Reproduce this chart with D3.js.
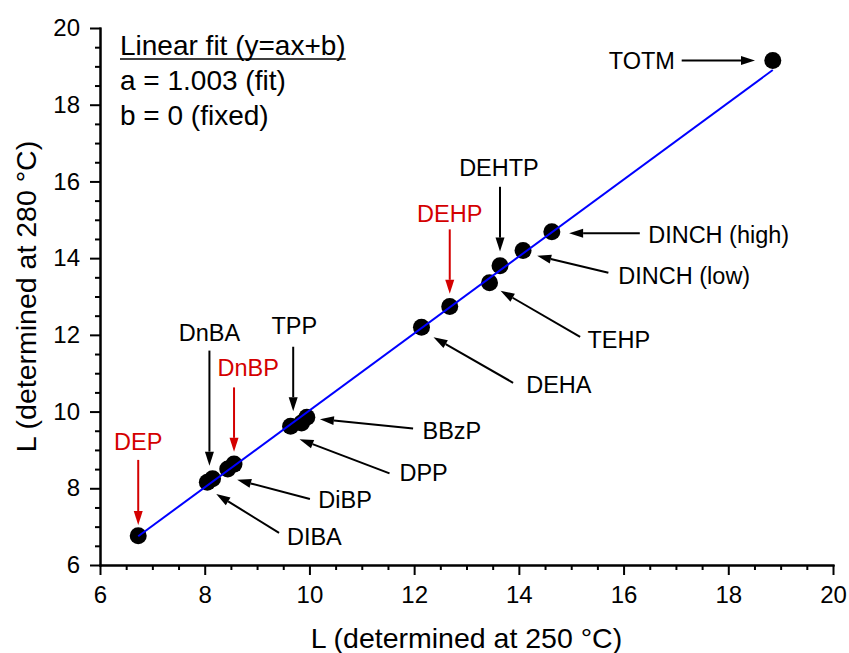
<!DOCTYPE html>
<html>
<head>
    <meta charset="UTF-8">
    <title>L at 250 °C vs L at 280 °C</title>
    <script src="https://d3js.org/d3.v7.min.js"></script>
    <style>
        body {
            margin: 0;
            padding: 0;
            background-color: white;
        }
        svg text {
            font-family: "Liberation Sans", Arial, sans-serif;
            fill: black;
        }
        .axis path, .axis line {
            stroke: black;
            stroke-width: 2px;
        }
        .axis text {
            font-size: 24px;
        }
        .label {
            font-size: 23.5px;
        }
        .title {
            font-size: 28.5px;
        }
        .legend {
            font-size: 28px;
        }
    </style>
</head>
<body>
    <div id="chart"></div>

    <script>
        // values
        var compounds = ["DEP", "DnBA", "DIBA", "DiBP", "DnBP", "TPP", "DPP", "BBzP",
                         "DEHA", "DEHP", "TEHP", "DEHTP", "DINCH (low)", "DINCH (high)", "TOTM"];
        var l250 = [6.73, 8.05, 8.15, 8.44, 8.56, 9.64, 9.85, 9.95,
                    12.14, 12.68, 13.44, 13.64, 14.08, 14.63, 18.85];
        var l280 = [6.76, 8.16, 8.25, 8.50, 8.63, 9.62, 9.70, 9.85,
                    12.20, 12.74, 13.36, 13.80, 14.20, 14.69, 19.15];
        var fitSlope = 1.003;
        var xTicks = [6, 8, 10, 12, 14, 16, 18, 20];
        var yTicks = [6, 8, 10, 12, 14, 16, 18, 20];
        var legendLines = ["Linear fit (y=ax+b)", "a = 1.003 (fit)", "b = 0 (fixed)"];

        // callouts: label position and arrow tail/tip, in data units
        var red = "#d40000";
        var callouts = [
            {text: "TOTM",         lx: 16.98, ly: 19.15, anchor: "end",    tail: [17.11, 19.15], tip: [18.51, 19.15]},
            {text: "DINCH (high)", lx: 16.47, ly: 14.62, anchor: "start",  tail: [16.31, 14.65], tip: [14.96, 14.65]},
            {text: "DINCH (low)",  lx: 15.90, ly: 13.54, anchor: "start",  tail: [15.71, 13.62], tip: [14.35, 14.06]},
            {text: "DEHTP",        lx: 13.62, ly: 16.35, anchor: "middle", tail: [13.64, 15.86], tip: [13.64, 14.17]},
            {text: "DEHP",         lx: 12.68, ly: 15.15, anchor: "middle", tail: [12.68, 14.75], tip: [12.68, 13.07], red: true},
            {text: "TEHP",         lx: 15.31, ly: 11.87, anchor: "start",  tail: [15.17, 11.95], tip: [13.65, 13.15]},
            {text: "DEHA",         lx: 14.14, ly: 10.69, anchor: "start",  tail: [13.89, 10.75], tip: [12.37, 11.94]},
            {text: "BBzP",         lx: 12.16, ly: 9.49,  anchor: "start",  tail: [11.98, 9.56],  tip: [10.20, 9.80]},
            {text: "DPP",          lx: 11.72, ly: 8.40,  anchor: "start",  tail: [11.53, 8.39],  tip: [9.81, 9.28]},
            {text: "TPP",          lx: 9.71,  ly: 12.23, anchor: "middle", tail: [9.69, 11.69],  tip: [9.69, 10.01]},
            {text: "DnBP",         lx: 8.83,  ly: 11.13, anchor: "middle", tail: [8.56, 10.63],  tip: [8.56, 8.95], red: true},
            {text: "DnBA",         lx: 8.09,  ly: 12.06, anchor: "middle", tail: [8.09, 11.59],  tip: [8.09, 8.59]},
            {text: "DEP",          lx: 6.73,  ly: 9.21,  anchor: "middle", tail: [6.73, 8.74],   tip: [6.73, 7.04], red: true},
            {text: "DiBP",         lx: 10.17, ly: 7.69,  anchor: "start",  tail: [10.01, 7.72],  tip: [8.62, 8.22]},
            {text: "DIBA",         lx: 9.57,  ly: 6.74,  anchor: "start",  tail: [9.42, 6.84],   tip: [8.22, 7.85]}
        ];

        var width = 849,
            height = 653;
        var plot = {left: 100, right: 833, top: 28, bottom: 565};

        var x = d3.scaleLinear().domain([6, 20]).range([plot.left, plot.right]);
        var y = d3.scaleLinear().domain([6, 20]).range([plot.bottom, plot.top]);

        var svg = d3.select("#chart").append("svg")
            .attr("width", width)
            .attr("height", height);

        // minor ticks every 0.5
        var minorX = d3.range(6, 20.01, 0.5).filter(function(d) { return d % 2 !== 0; });
        var minorY = minorX.slice();

        svg.append("g")
            .attr("class", "axis")
            .attr("transform", "translate(0," + plot.bottom + ")")
            .call(d3.axisBottom(x).tickValues(minorX).tickSize(5).tickSizeOuter(0).tickFormat(""));
        svg.append("g")
            .attr("class", "axis")
            .attr("transform", "translate(" + plot.left + ",0)")
            .call(d3.axisLeft(y).tickValues(minorY).tickSize(5).tickSizeOuter(0).tickFormat(""));

        svg.append("g")
            .attr("class", "axis")
            .attr("transform", "translate(0," + plot.bottom + ")")
            .call(d3.axisBottom(x).tickValues(xTicks).tickSize(10).tickSizeOuter(0).tickPadding(11));
        svg.append("g")
            .attr("class", "axis")
            .attr("transform", "translate(" + plot.left + ",0)")
            .call(d3.axisLeft(y).tickValues(yTicks).tickSize(10).tickSizeOuter(0).tickPadding(10));

        svg.selectAll(".axis .domain").attr("stroke-linecap", "square");

        // axis titles
        svg.append("text")
            .attr("class", "title")
            .attr("x", (plot.left + plot.right) / 2)
            .attr("y", 648)
            .attr("text-anchor", "middle")
            .text("L (determined at 250 °C)");

        svg.append("text")
            .attr("class", "title")
            .attr("transform", "translate(36," + (plot.top + plot.bottom) / 2 + ") rotate(-90)")
            .attr("text-anchor", "middle")
            .text("L (determined at 280 °C)");

        // points
        svg.selectAll(".dot")
            .data(compounds)
            .enter().append("circle")
            .attr("class", "dot")
            .attr("cx", function(d, i) { return x(l250[i]); })
            .attr("cy", function(d, i) { return y(l280[i]); })
            .attr("r", 8.5)
            .attr("fill", "black");

        // fit line y = a*x over the data range, on top of the dots
        var xMin = d3.min(l250), xMax = d3.max(l250);
        svg.append("line")
            .attr("x1", x(xMin))
            .attr("y1", y(fitSlope * xMin))
            .attr("x2", x(xMax))
            .attr("y2", y(fitSlope * xMax))
            .attr("stroke", "#0000ff")
            .attr("stroke-width", 2);

        // callout arrows
        var headLen = 14, headHalf = 4.5;
        var arrows = svg.selectAll(".callout")
            .data(callouts)
            .enter().append("g")
            .attr("class", "callout");

        arrows.each(function(d) {
            var g = d3.select(this);
            var color = d.red ? red : "black";
            var x1 = x(d.tail[0]), y1 = y(d.tail[1]),
                x2 = x(d.tip[0]), y2 = y(d.tip[1]);
            var ang = Math.atan2(y2 - y1, x2 - x1);
            var bx = x2 - headLen * Math.cos(ang),
                by = y2 - headLen * Math.sin(ang);

            g.append("line")
                .attr("x1", x1).attr("y1", y1)
                .attr("x2", bx).attr("y2", by)
                .attr("stroke", color)
                .attr("stroke-width", 2);

            var px = -Math.sin(ang) * headHalf, py = Math.cos(ang) * headHalf;
            g.append("polygon")
                .attr("points", [[x2, y2], [bx + px, by + py], [bx - px, by - py]]
                    .map(function(p) { return p.join(","); }).join(" "))
                .attr("fill", color);

            g.append("text")
                .attr("class", "label")
                .attr("x", x(d.lx))
                .attr("y", y(d.ly))
                .attr("dy", "0.35em")
                .attr("text-anchor", d.anchor)
                .style("fill", color)
                .text(d.text);
        });

        // fit legend, top left
        var legend = svg.append("g").attr("transform", "translate(120,55)");
        legend.selectAll("text")
            .data(legendLines)
            .enter().append("text")
            .attr("class", "legend")
            .attr("x", 0)
            .attr("y", function(d, i) { return i * 35; })
            .text(function(d) { return d; });

        var firstW = legend.select("text").node().getComputedTextLength();
        legend.append("line")
            .attr("x1", 0).attr("x2", firstW)
            .attr("y1", 4).attr("y2", 4)
            .attr("stroke", "black")
            .attr("stroke-width", 1.5);
    </script>
</body>
</html>
